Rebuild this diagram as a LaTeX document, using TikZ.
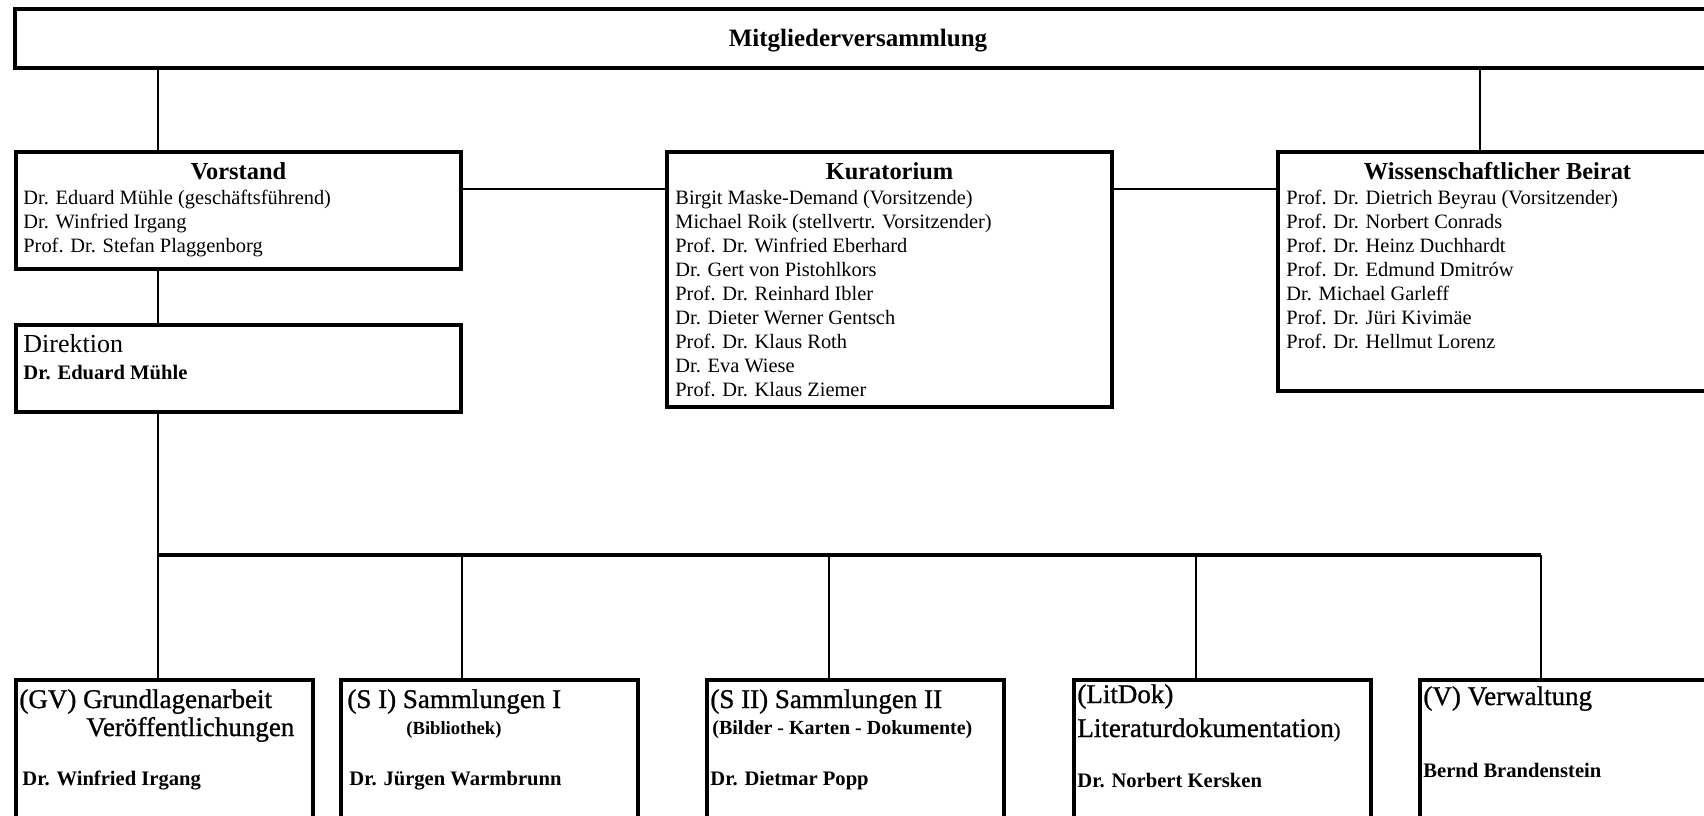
\documentclass[tikz,border=0pt]{standalone}
\usepackage{fontspec}
\setmainfont{Liberation Serif}
\newfontfamily\unitfont[FakeBold=0.9]{Liberation Serif}
\usetikzlibrary{calc}

\begin{document}
\begin{tikzpicture}[x=0.5pt, y=-0.5pt,
    orgbox/.style={draw, line width=2pt, rectangle, anchor=north west, inner sep=0pt, outer sep=0pt},
    memberline/.style={anchor=base west, inner sep=0pt, font=\fontsize{10.2}{12}\selectfont},
    boxtitle/.style={anchor=base, inner sep=0pt, font=\fontsize{12.2}{14}\selectfont\bfseries},
    unittitle/.style={anchor=base west, inner sep=0pt, font=\unitfont\fontsize{13.5}{16}\selectfont},
    headname/.style={anchor=base west, inner sep=0pt, font=\fontsize{10.3}{12}\selectfont\bfseries},
    connector/.style={line width=0.75pt}]
    \useasboundingbox (0,0) rectangle (1704,815);
    \fill[white] (0,0) rectangle (1704,815);
    \clip (0,0) rectangle (1704,815);

    % boxes
    \node[orgbox, minimum width=848.5pt, minimum height=29.5pt] (mitglied) at (15,9) {};
    \node[orgbox, minimum width=222.5pt, minimum height=58.5pt] (vorstand) at (16,152) {};
    \node[orgbox, minimum width=222.5pt, minimum height=43.5pt] (direktion) at (16,325) {};
    \node[orgbox, minimum width=222.5pt, minimum height=127.5pt] (kuratorium) at (667,152) {};
    \node[orgbox, minimum width=219.5pt, minimum height=119.5pt] (beirat) at (1278,152) {};
    \foreach \n/\x in {gv/16, si/341, sii/707, lit/1074, verw/1420}
        \node[orgbox, minimum width=148.5pt, minimum height=80pt] (\n) at (\x,680) {};

    % top row
    \node[inner sep=0pt, font=\fontsize{12.5}{15}\selectfont\bfseries] (mitgliedtext) at (858,41) {Mitgliederversammlung};

    \node[boxtitle] (vorstandtitle) at ($(vorstand.north)+(0,27)$) {Vorstand};
    \foreach \t [count=\i] in {Dr. Eduard Mühle (geschäftsführend), Dr. Winfried Irgang,
        Prof. Dr. Stefan Plaggenborg}
        \node[memberline] (vorstand\i) at ($(vorstand.north west)+(7,28+24*\i)$) {\t};

    \node[boxtitle] (kuratoriumtitle) at ($(kuratorium.north)+(0,27)$) {Kuratorium};
    \foreach \t [count=\i] in {Birgit Maske-Demand (Vorsitzende), Michael Roik (stellvertr. Vorsitzender),
        Prof. Dr. Winfried Eberhard, Dr. Gert von Pistohlkors, Prof. Dr. Reinhard Ibler,
        Dr. Dieter Werner Gentsch, Prof. Dr. Klaus Roth, Dr. Eva Wiese, Prof. Dr. Klaus Ziemer}
        \node[memberline] (kuratorium\i) at ($(kuratorium.north west)+(8,28+24*\i)$) {\t};

    \node[boxtitle] (beirattitle) at ($(beirat.north)+(0,27)$) {Wissenschaftlicher Beirat};
    \foreach \t [count=\i] in {Prof. Dr. Dietrich Beyrau (Vorsitzender), Prof. Dr. Norbert Conrads,
        Prof. Dr. Heinz Duchhardt, Prof. Dr. Edmund Dmitrów, Dr. Michael Garleff,
        Prof. Dr. Jüri Kivimäe, Prof. Dr. Hellmut Lorenz}
        \node[memberline] (beirat\i) at ($(beirat.north west)+(8,28+24*\i)$) {\t};

    \node[anchor=base west, inner sep=0pt, font=\fontsize{13}{15}\selectfont] (direktiontitle)
        at ($(direktion.north west)+(7,27)$) {Direktion};
    \node[headname] (direktionhead) at ($(direktion.north west)+(7,54)$) {Dr. Eduard Mühle};

    % departments
    \node[unittitle] (gvtitle) at ($(gv.north west)+(3,28)$) {(GV) Grundlagenarbeit};
    \node[unittitle] (gvsub) at ($(gv.north west)+(70,56)$) {Veröffentlichungen};
    \node[headname] (gvhead) at ($(gv.north west)+(6,105)$) {Dr. Winfried Irgang};

    \node[unittitle] (sititle) at ($(si.north west)+(6,28)$) {(S I) Sammlungen I};
    \node[headname, font=\fontsize{9.3}{11}\selectfont\bfseries] (sisub) at ($(si.north west)+(65,54)$) {(Bibliothek)};
    \node[headname] (sihead) at ($(si.north west)+(8,105)$) {Dr. Jürgen Warmbrunn};

    \node[unittitle] (siititle) at ($(sii.north west)+(3,28)$) {(S II) Sammlungen II};
    \node[headname, font=\fontsize{10}{12}\selectfont\bfseries] (siisub) at ($(sii.north west)+(5,54)$) {(Bilder - Karten - Dokumente)};
    \node[headname] (siihead) at ($(sii.north west)+(3,105)$) {Dr. Dietmar Popp};

    \node[unittitle] (littitle) at ($(lit.north west)+(3,23)$) {(LitDok)};
    \node[unittitle] (litsub) at ($(lit.north west)+(3,57)$) {Literaturdokumentation{\fontsize{10}{12}\selectfont)}};
    \node[headname] (lithead) at ($(lit.north west)+(3,107)$) {Dr. Norbert Kersken};

    \node[unittitle] (verwtitle) at ($(verw.north west)+(3,25)$) {(V) Verwaltung};
    \node[headname] (verwhead) at ($(verw.north west)+(3,97)$) {Bernd Brandenstein};

    % connectors
    \coordinate (lefttrunk) at (158,0);
    \coordinate (righttrunk) at (1480,0);
    \coordinate (crossrow) at (0,189);
    \coordinate (busl) at (158,555);
    \coordinate (busr) at (1541,555);

    \draw[connector] (mitglied.south -| lefttrunk) -- (vorstand.north -| lefttrunk);
    \draw[connector] (mitglied.south -| righttrunk) -- (beirat.north -| righttrunk);
    \draw[connector, line width=1pt] (vorstand.east |- crossrow) -- (kuratorium.west |- crossrow);
    \draw[connector, line width=1pt] (kuratorium.east |- crossrow) -- (beirat.west |- crossrow);
    \draw[connector, line width=1.3pt] (vorstand.south -| lefttrunk) -- (direktion.north -| lefttrunk);
    \draw[connector] (direktion.south -| lefttrunk) -- (busl);
    \draw[line width=2pt] (busl) -- (busr);
    \foreach \n/\x in {gv/158, si/462, sii/829, lit/1196, verw/1541} {
        \coordinate (drop) at (\x,555);
        \draw[connector, line width=1pt] (drop) -- (\n.north -| drop);
    }
\end{tikzpicture}
\end{document}
